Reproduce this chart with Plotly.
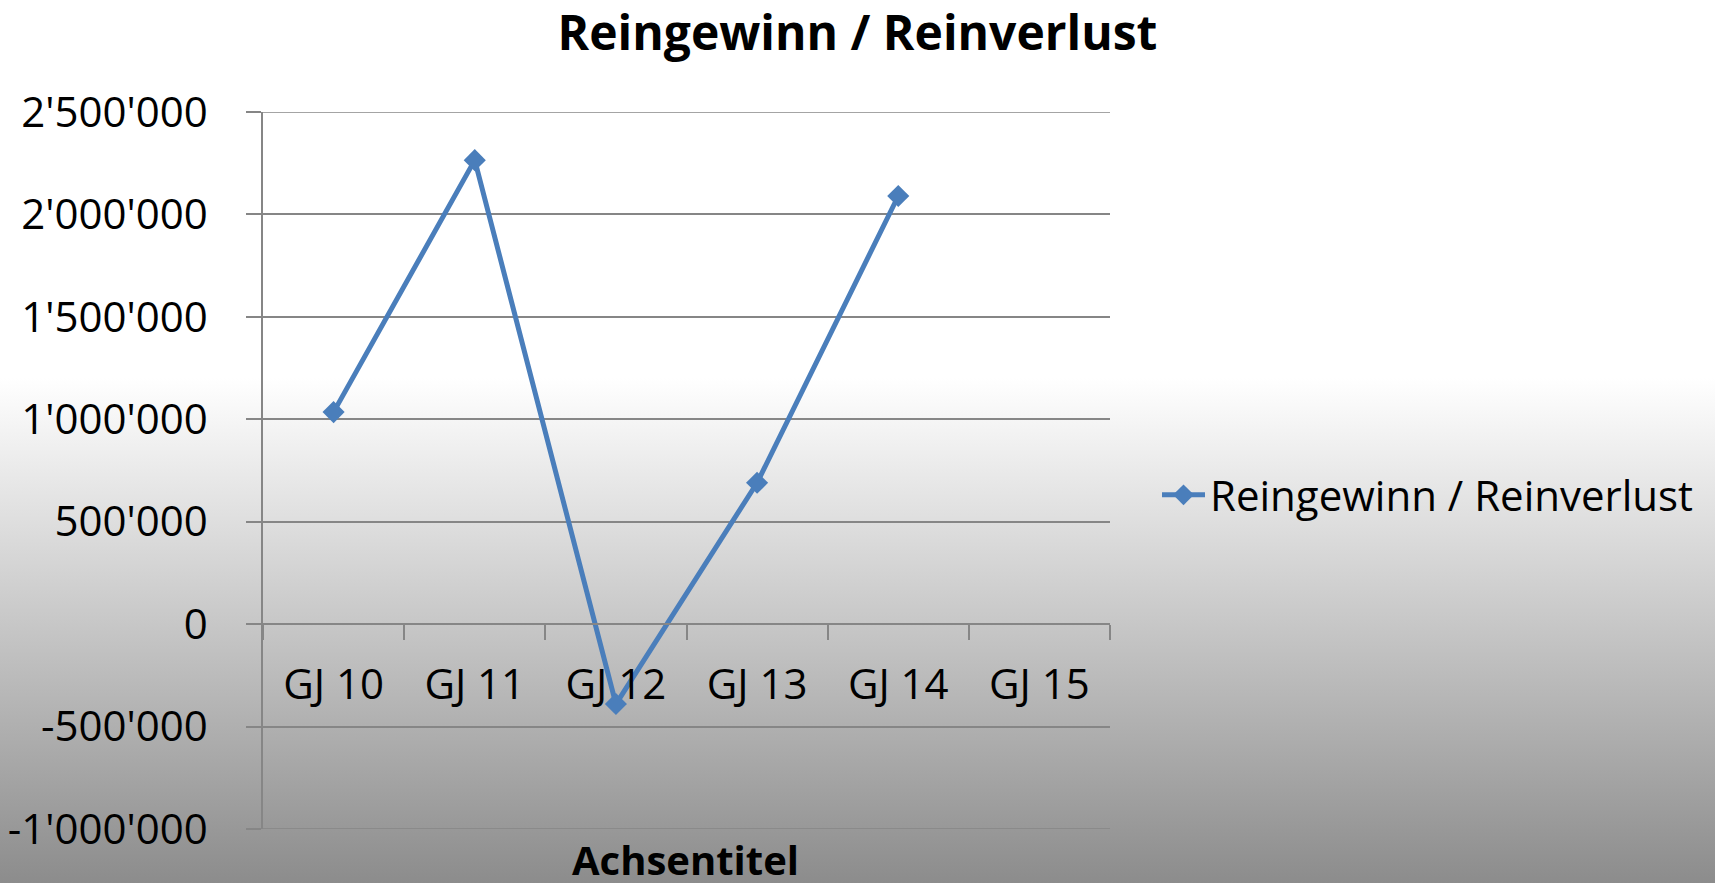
import base64
import plotly.graph_objects as go

categories = ["GJ 10", "GJ 11", "GJ 12", "GJ 13", "GJ 14", "GJ 15"]
values = [1035000, 2265000, -390000, 690000, 2090000, None]
series_name = "Reingewinn / Reinverlust"
title_text = "Reingewinn / Reinverlust"
x_axis_title = "Achsentitel"
y_tickvals = [-1000000, -500000, 0, 500000, 1000000, 1500000, 2000000, 2500000]
y_ticktext = ["-1'000'000", "-500'000", "0", "500'000", "1'000'000", "1'500'000", "2'000'000", "2'500'000"]

W, H = 1715, 883
ML, MR, MT, MB = 263, 605, 112, 54
PW, PH = W - ML - MR, H - MT - MB

FONT = "Open Sans"
GRID = "#868686"
BLUE = "#4a7ebb"

svg = (
    f'<svg xmlns="http://www.w3.org/2000/svg" width="{W}" height="{H}" '
    f'viewBox="0 0 {W} {H}" preserveAspectRatio="none">'
    '<defs><linearGradient id="g" x1="0" y1="0" x2="0" y2="1">'
    '<stop offset="0" stop-color="#ffffff"/>'
    '<stop offset="0.428" stop-color="#ffffff"/>'
    '<stop offset="1" stop-color="#8c8c8c"/>'
    '</linearGradient></defs>'
    f'<rect x="0" y="0" width="{W}" height="{H}" fill="url(#g)"/></svg>'
)
bg_uri = "data:image/svg+xml;base64," + base64.b64encode(svg.encode()).decode()

fig = go.Figure()
fig.add_trace(go.Scatter(
    x=categories, y=values, name=series_name, mode="lines+markers",
    line=dict(color=BLUE, width=5),
    marker=dict(symbol="diamond", size=17, color=BLUE),
    connectgaps=False,
))

y_min, y_max = min(y_tickvals), max(y_tickvals)
zero_pos = (0 - y_min) / (y_max - y_min)

# boundary gridlines (plotly skips gridlines lying on the plot edges)
edge_lines = [dict(type="line", xref="paper", yref="y", x0=0, x1=1, y0=v, y1=v,
                   line=dict(color=GRID, width=1.5), layer="below")
              for v in (y_min, y_max)]

fig.update_layout(
    width=W, height=H,
    margin=dict(l=ML, r=MR, t=MT, b=MB, autoexpand=False),
    paper_bgcolor="white",
    plot_bgcolor="rgba(0,0,0,0)",
    font=dict(family=FONT, size=42, color="black"),
    title=dict(text=f"<b>{title_text}</b>", x=0.5, xref="container",
               xanchor="center", y=1 - 33 / H, yanchor="middle",
               font=dict(family=FONT, size=48, color="black")),
    showlegend=True,
    legend=dict(x=(1157 - ML) / PW, xanchor="left", y=1 - (495 - MT) / PH, yanchor="middle",
                itemwidth=43,
                bgcolor="rgba(0,0,0,0)", font=dict(family=FONT, size=42, color="black")),
    images=[dict(source=bg_uri, xref="paper", yref="paper",
                 x=-ML / PW, y=1 + MT / PH, sizex=W / PW, sizey=H / PH,
                 xanchor="left", yanchor="top", sizing="stretch", layer="below")],
    shapes=edge_lines,
    xaxis=dict(
        type="category", range=[-0.5, 5.5], anchor="free", position=zero_pos,
        showline=True, linecolor=GRID, linewidth=1.5,
        showgrid=False, zeroline=False,
        ticks="outside", tickson="boundaries", ticklen=15, tickwidth=1.5, tickcolor=GRID,
        ticklabelstandoff=24,
        tickfont=dict(family=FONT, size=42, color="black"),
    ),
    yaxis=dict(
        range=[y_min, y_max], tickvals=y_tickvals, ticktext=y_ticktext,
        showline=True, linecolor=GRID, linewidth=1.5,
        showgrid=True, gridcolor=GRID, gridwidth=1.5, zeroline=False,
        ticks="outside", ticklen=15, tickwidth=1.5, tickcolor=GRID,
        ticklabelstandoff=30,
        tickfont=dict(family=FONT, size=42, color="black"),
    ),
    annotations=[dict(text=f"<b>{x_axis_title}</b>", xref="paper", yref="paper",
                      x=(685 - ML) / PW, y=1 - (859 - MT) / PH, xanchor="center", yanchor="middle",
                      showarrow=False, font=dict(family=FONT, size=40, color="black"))],
)

fig.write_html("out.html",
               config={"displayModeBar": False},
               post_script="document.body.style.margin='0';document.body.style.overflow='hidden';")
